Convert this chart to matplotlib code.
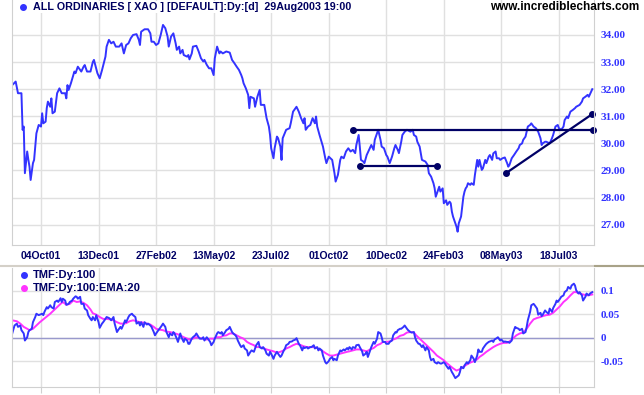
import matplotlib
matplotlib.use("Agg")
import matplotlib.pyplot as plt
from matplotlib.lines import Line2D

# ---- data (trading-day number from 30Aug01, value) ----
tick_days = [25, 75, 125, 175, 225, 275, 325, 375, 425, 475]
tick_labels = ["04Oct01", "13Dec01", "27Feb02", "13May02", "23Jul02",
               "01Oct02", "10Dec02", "24Feb03", "08May03", "18Jul03"]

price_ticks = [27, 28, 29, 30, 31, 32, 33, 34]
tmf_ticks = [-0.05, 0, 0.05, 0.1]
tmf_tick_labels = ["-0.05", "0", "0.05", "0.1"]

price_day = [0, 3, 5, 8, 9, 10, 11, 13, 14, 15, 16, 18, 19, 20, 21, 23, 25, 26, 27, 29,
             30, 31, 33, 34, 35, 37, 39, 41, 43, 46, 47, 48, 49, 51, 54, 55, 57, 60, 62, 63,
             65, 68, 70, 71, 74, 76, 78, 81, 82, 84, 86, 88, 90, 93, 95, 97, 99, 101, 103, 105,
             108, 110, 111, 112, 115, 118, 120, 121, 123, 125, 127, 129, 131, 133, 135, 136, 138, 140, 142, 143,
             145, 146, 148, 149, 152, 153, 154, 156, 157, 160, 162, 164, 166, 167, 169, 171, 173, 175, 176, 178,
             180, 181, 183, 186, 189, 191, 193, 195, 197, 199, 200, 201, 203, 205, 206, 207, 210, 211, 213, 215,
             216, 219, 221, 223, 224, 225, 227, 228, 230, 231, 233, 234, 235, 238, 241, 242, 244, 247, 249, 251,
             253, 254, 255, 257, 259, 261, 263, 264, 265, 267, 270, 272, 273, 275, 278, 280, 281, 283, 285, 286,
             288, 290, 292, 294, 296, 298, 299, 301, 302, 303, 305, 306, 308, 310, 312, 314, 315, 317, 318, 320,
             321, 323, 325, 326, 328, 330, 332, 333, 335, 336, 338, 339, 341, 343, 346, 348, 349, 351, 352, 354,
             356, 359, 361, 362, 364, 366, 367, 368, 370, 371, 372, 374, 375, 377, 378, 380, 381, 382, 383, 385,
             386, 387, 388, 390, 391, 392, 393, 394, 395, 396, 398, 399, 401, 402, 404, 405, 406, 408, 409, 411,
             412, 414, 415, 417, 418, 420, 421, 423, 424, 426, 428, 430, 431, 432, 434, 436, 438, 440, 441, 443,
             444, 446, 447, 448, 450, 451, 453, 455, 457, 459, 460, 461, 463, 464, 467, 469, 470, 472, 474, 475,
             477, 479, 480, 482, 483, 485, 487, 489, 490, 493, 495, 496, 498, 500, 501, 503, 504]
price_close = [32.15, 32.28, 31.85, 31.85, 30.50, 30.62, 28.90, 29.70, 29.40, 29.14, 28.65, 29.27, 29.39, 29.88, 30.37, 30.68, 30.62, 31.11, 30.74, 30.80,
               31.30, 31.54, 31.35, 31.66, 31.11, 31.17, 31.85, 32.03, 31.85, 31.85, 31.66, 32.15, 31.97, 32.22, 32.65, 32.59, 32.83, 32.65, 32.83, 32.89,
               32.65, 32.65, 33.00, 33.08, 32.59, 32.40, 32.70, 33.20, 33.57, 33.82, 33.69, 33.75, 33.57, 33.57, 33.69, 33.32, 33.63, 33.69, 33.88, 34.00,
               34.03, 33.82, 33.63, 34.12, 34.21, 34.21, 34.06, 33.75, 33.75, 33.63, 33.69, 34.00, 34.37, 34.25, 33.94, 33.57, 33.94, 34.06, 33.69, 33.45,
               33.57, 33.32, 33.45, 33.26, 33.20, 33.26, 33.10, 33.32, 33.57, 33.60, 33.39, 33.14, 33.02, 33.08, 32.90, 32.77, 32.77, 32.52, 33.14, 33.57,
               33.32, 33.39, 33.32, 33.39, 33.35, 33.08, 32.96, 32.83, 32.71, 32.52, 32.40, 32.22, 32.03, 31.79, 31.30, 31.72, 31.66, 31.35, 31.72, 31.97,
               31.42, 31.42, 30.93, 30.62, 30.31, 29.82, 29.45, 29.82, 30.25, 30.19, 29.88, 29.39, 30.19, 30.50, 30.56, 30.74, 31.17, 31.35, 31.17, 30.93,
               30.74, 30.93, 30.50, 30.62, 30.68, 30.93, 30.74, 30.99, 30.62, 30.31, 29.88, 29.45, 29.27, 29.51, 29.39, 28.90, 28.59, 28.84, 29.39, 29.51,
               29.45, 29.70, 29.82, 29.70, 29.76, 29.64, 29.94, 30.31, 29.88, 29.39, 29.33, 29.27, 29.57, 29.76, 29.94, 29.76, 30.13, 30.37, 30.50, 30.13,
               29.88, 29.82, 29.57, 29.51, 29.27, 29.51, 29.82, 29.94, 29.76, 29.64, 30.06, 30.31, 30.43, 30.50, 30.43, 30.50, 30.31, 30.25, 30.06, 29.88,
               29.39, 29.33, 29.20, 28.90, 28.77, 28.53, 28.35, 28.03, 28.28, 28.40, 28.22, 28.34, 27.79, 27.90, 27.73, 27.85, 27.79, 27.48, 27.30, 27.05,
               26.93, 26.74, 27.05, 27.30, 27.67, 28.03, 28.22, 28.34, 28.40, 28.53, 28.47, 28.53, 28.47, 28.83, 29.39, 29.14, 29.39, 29.02, 29.08, 29.39,
               29.27, 29.51, 29.57, 29.39, 29.63, 29.70, 29.45, 29.45, 29.39, 29.45, 29.48, 29.27, 29.14, 29.20, 29.45, 29.57, 29.70, 29.82, 29.94, 30.00,
               30.13, 30.25, 30.43, 30.62, 30.68, 30.74, 30.62, 30.56, 30.43, 30.19, 29.94, 30.00, 30.06, 30.06, 30.00, 30.19, 30.31, 30.62, 30.68, 30.56,
               30.50, 30.62, 30.86, 30.99, 30.93, 31.17, 31.23, 31.30, 31.35, 31.42, 31.54, 31.66, 31.72, 31.79, 31.72, 31.91, 32.00]

# drawn trend lines: (day, level) end points
resist_day, resist_level = [296, 505], [30.50, 30.50]
support_day, support_level = [302, 369], [29.15, 29.15]
trend_day, trend_level = [429, 504], [28.90, 31.08]

tmf_day = [0, 2, 4, 5, 7, 8, 10, 11, 13, 14, 15, 17, 18, 20, 21, 23, 24, 26, 27, 28,
           30, 31, 33, 34, 36, 37, 39, 40, 42, 43, 44, 46, 47, 49, 50, 52, 53, 55, 56, 57,
           59, 60, 62, 63, 65, 66, 68, 69, 70, 72, 73, 75, 76, 78, 79, 81, 82, 84, 85, 86,
           88, 89, 91, 92, 94, 95, 97, 98, 99, 101, 102, 104, 105, 107, 108, 110, 111, 112, 114, 115,
           117, 118, 120, 121, 123, 124, 125, 127, 128, 130, 131, 133, 134, 136, 137, 139, 140, 141, 143, 144,
           146, 147, 149, 150, 152, 153, 154, 156, 157, 159, 160, 162, 163, 165, 166, 167, 169, 170, 172, 173,
           175, 176, 178, 179, 181, 182, 183, 185, 186, 188, 189, 191, 192, 194, 195, 196, 198, 199, 201, 202,
           204, 205, 207, 208, 210, 211, 212, 214, 215, 217, 218, 220, 221, 223, 224, 225, 227, 228, 230, 231,
           233, 234, 236, 237, 238, 240, 241, 243, 244, 246, 247, 249, 250, 252, 253, 254, 256, 257, 259, 260,
           262, 263, 265, 266, 267, 269, 270, 272, 273, 275, 276, 278, 279, 280, 282, 283, 285, 286, 288, 289,
           291, 292, 293, 295, 296, 298, 299, 301, 302, 304, 305, 307, 308, 309, 311, 312, 314, 315, 317, 318,
           320, 321, 322, 324, 325, 327, 328, 330, 331, 333, 334, 335, 337, 338, 340, 341, 343, 344, 346, 347,
           349, 350, 351, 353, 354, 356, 357, 359, 360, 362, 363, 364, 366, 367, 369, 370, 372, 373, 375, 376,
           377, 379, 380, 382, 383, 385, 386, 388, 389, 390, 392, 393, 395, 396, 398, 399, 401, 402, 404, 405,
           406, 408, 409, 411, 412, 414, 415, 417, 418, 419, 421, 422, 424, 425, 427, 428, 430, 431, 432, 434,
           435, 437, 438, 440, 441, 443, 444, 446, 447, 448, 450, 451, 453, 454, 456, 457, 459, 460, 461, 463,
           464, 466, 467, 469, 470, 472, 473, 474, 476, 477, 479, 480, 482, 483, 485, 486, 488, 489, 490, 492,
           493, 495, 496, 498, 499, 501, 502, 504]
tmf_value = [0.009, 0.026, 0.030, 0.023, 0.026, 0.016, 0.009, -0.006, 0.001, 0.012, 0.016, 0.019, 0.033, 0.044, 0.051, 0.048, 0.049, 0.051, 0.048, 0.055,
             0.065, 0.062, 0.069, 0.065, 0.062, 0.076, 0.079, 0.076, 0.084, 0.076, 0.083, 0.079, 0.070, 0.072, 0.076, 0.079, 0.083, 0.088, 0.087, 0.083,
             0.087, 0.072, 0.072, 0.062, 0.058, 0.048, 0.040, 0.037, 0.044, 0.037, 0.048, 0.033, 0.021, 0.030, 0.033, 0.040, 0.044, 0.042, 0.040, 0.037,
             0.044, 0.030, 0.012, 0.016, 0.023, 0.019, 0.030, 0.037, 0.033, 0.044, 0.048, 0.051, 0.048, 0.044, 0.030, 0.033, 0.026, 0.033, 0.023, 0.033,
             0.028, 0.030, 0.026, 0.023, 0.012, 0.005, 0.009, 0.016, 0.019, 0.026, 0.030, 0.023, 0.012, 0.001, 0.009, 0.005, 0.012, 0.009, -0.002, -0.009,
             0.009, 0.001, -0.009, -0.002, -0.006, -0.013, -0.013, -0.002, 0.001, 0.005, 0.009, 0.001, -0.002, -0.002, 0.001, -0.006, 0.001, -0.002, -0.009, -0.016,
             -0.009, -0.002, 0.009, 0.012, 0.009, 0.012, 0.005, 0.012, 0.016, 0.019, 0.023, 0.012, 0.009, 0.005, 0.001, -0.006, -0.016, -0.020, -0.016, -0.023,
             -0.027, -0.038, -0.030, -0.027, -0.030, -0.023, -0.016, -0.009, -0.020, -0.023, -0.020, -0.027, -0.034, -0.038, -0.030, -0.034, -0.045, -0.038, -0.030, -0.034,
             -0.041, -0.038, -0.027, -0.023, -0.016, -0.013, -0.009, -0.008, -0.006, -0.004, -0.001, -0.013, -0.016, -0.027, -0.020, -0.022, -0.020, -0.023, -0.020, -0.020,
             -0.016, -0.023, -0.020, -0.027, -0.023, -0.027, -0.038, -0.052, -0.055, -0.050, -0.045, -0.041, -0.048, -0.045, -0.048, -0.038, -0.027, -0.029, -0.025, -0.027,
             -0.022, -0.025, -0.020, -0.025, -0.020, -0.022, -0.016, -0.015, -0.020, -0.029, -0.038, -0.034, -0.030, -0.041, -0.027, -0.020, -0.009, -0.013, -0.002, 0.012,
             0.009, 0.001, -0.009, -0.009, -0.013, -0.013, -0.009, -0.006, 0.005, 0.012, 0.011, 0.016, 0.019, 0.019, 0.023, 0.026, 0.019, 0.016, 0.012, 0.011,
             0.012, 0.001, -0.006, -0.013, -0.013, -0.020, -0.016, -0.027, -0.020, -0.027, -0.041, -0.048, -0.045, -0.052, -0.055, -0.052, -0.055, -0.055, -0.052, -0.055,
             -0.059, -0.066, -0.062, -0.073, -0.077, -0.086, -0.084, -0.080, -0.073, -0.062, -0.065, -0.059, -0.052, -0.055, -0.048, -0.038, -0.045, -0.052, -0.038, -0.025,
             -0.030, -0.030, -0.023, -0.016, -0.013, -0.009, -0.008, -0.006, -0.009, -0.004, -0.001, 0.001, -0.006, -0.004, -0.009, -0.008, -0.009, -0.009, -0.011, -0.006,
             0.009, 0.023, 0.021, 0.019, 0.016, 0.019, 0.009, 0.012, 0.023, 0.037, 0.055, 0.069, 0.072, 0.069, 0.062, 0.049, 0.053, 0.046, 0.049, 0.058,
             0.055, 0.051, 0.062, 0.055, 0.063, 0.072, 0.079, 0.076, 0.083, 0.087, 0.090, 0.097, 0.101, 0.108, 0.104, 0.111, 0.115, 0.111, 0.101, 0.094,
             0.097, 0.090, 0.079, 0.087, 0.094, 0.090, 0.094, 0.097]

ema_day = [0, 4, 7, 10, 13, 15, 18, 21, 24, 27, 30, 33, 36, 39, 42, 44, 47, 50, 53, 56,
           59, 62, 65, 68, 70, 73, 76, 79, 82, 85, 88, 91, 94, 97, 99, 102, 105, 108, 111, 114,
           117, 120, 123, 125, 128, 131, 134, 137, 140, 143, 146, 149, 152, 154, 157, 160, 163, 166, 169, 172,
           175, 178, 181, 183, 186, 189, 192, 195, 198, 201, 204, 207, 210, 212, 215, 218, 221, 224, 227, 230,
           233, 236, 238, 241, 244, 247, 250, 253, 256, 259, 262, 265, 267, 270, 273, 276, 279, 282, 285, 288,
           291, 293, 296, 299, 302, 305, 308, 311, 314, 317, 320, 322, 325, 328, 331, 334, 337, 340, 343, 346,
           349, 351, 354, 357, 360, 363, 366, 369, 372, 375, 377, 380, 383, 386, 389, 392, 395, 398, 401, 404,
           406, 409, 412, 415, 418, 421, 424, 427, 430, 432, 435, 438, 441, 444, 447, 450, 453, 456, 459, 461,
           464, 467, 470, 473, 476, 479, 482, 485, 488, 490, 493, 496, 499, 502, 504]
ema_value = [0.037, 0.035, 0.030, 0.023, 0.019, 0.016, 0.019, 0.026, 0.033, 0.039, 0.045, 0.051, 0.058, 0.065, 0.072, 0.076, 0.070, 0.072, 0.079, 0.076,
             0.077, 0.074, 0.069, 0.060, 0.052, 0.049, 0.044, 0.040, 0.040, 0.039, 0.037, 0.033, 0.030, 0.030, 0.031, 0.035, 0.037, 0.035, 0.033, 0.032,
             0.030, 0.028, 0.023, 0.019, 0.017, 0.016, 0.013, 0.012, 0.010, 0.008, 0.005, 0.001, -0.002, -0.004, -0.002, 0.001, -0.001, -0.002, -0.004, -0.002,
             -0.002, 0.001, 0.001, 0.004, 0.005, 0.009, 0.009, 0.005, 0.001, -0.002, -0.009, -0.013, -0.016, -0.020, -0.020, -0.022, -0.025, -0.027, -0.029, -0.032,
             -0.030, -0.027, -0.023, -0.020, -0.016, -0.013, -0.015, -0.018, -0.020, -0.020, -0.020, -0.022, -0.025, -0.029, -0.034, -0.038, -0.038, -0.036, -0.034, -0.032,
             -0.030, -0.029, -0.027, -0.025, -0.025, -0.027, -0.029, -0.025, -0.022, -0.016, -0.013, -0.009, -0.009, -0.008, -0.004, -0.001, 0.004, 0.006, 0.011, 0.012,
             0.011, 0.005, -0.002, -0.009, -0.016, -0.023, -0.030, -0.038, -0.043, -0.048, -0.053, -0.059, -0.065, -0.070, -0.067, -0.062, -0.057, -0.053, -0.050, -0.046,
             -0.041, -0.036, -0.030, -0.025, -0.020, -0.016, -0.013, -0.011, -0.011, -0.008, -0.002, 0.005, 0.009, 0.011, 0.019, 0.030, 0.039, 0.042, 0.044, 0.046,
             0.048, 0.049, 0.053, 0.060, 0.067, 0.076, 0.082, 0.090, 0.097, 0.097, 0.094, 0.092, 0.090, 0.091, 0.092]

# ---- layout helpers (reference is 644 x 395 px) ----
W, H = 644, 395


def fx(px):
    return px / W


def fy(py):
    return 1 - py / H


NAVY = "#000066"
BLUE = "#3333ff"
MAGENTA = "#ff33ff"
GRID = "#e0e0e0"
SPINE = "#d0d0d0"
sans = "Liberation Sans"
serif = "Liberation Serif"

fig = plt.figure(figsize=(W / 100, H / 100), dpi=100)
fig.patch.set_facecolor("white")

ax = fig.add_axes([fx(12), fy(245), fx(594) - fx(12), 245 / H])
ax2 = fig.add_axes([fx(12), fy(387), fx(594) - fx(12), (387 - 268) / H])

for a in (ax, ax2):
    a.set_xlim(-0.2, 505.5)
    a.grid(True, color=GRID, lw=1.0)
    a.set_axisbelow(True)
    for side in ("left", "right", "bottom"):
        a.spines[side].set_color(SPINE)
    a.spines["top"].set_visible(False)
    a.yaxis.tick_right()
    a.set_xticks(tick_days)

# ---- price panel ----
ax.plot(price_day, price_close, color=BLUE, lw=1.4)
for d, v in ((resist_day, resist_level), (support_day, support_level), (trend_day, trend_level)):
    ax.plot(d, v, color=NAVY, lw=1.6, marker="o", ms=4, clip_on=False)

ax.set_ylim(26.25, 35.29)
ax.set_yticks(price_ticks)
ax.set_yticklabels([f"{v:.2f}" for v in price_ticks])
ax.set_xticklabels(tick_labels)
ax.tick_params(axis="x", length=0, pad=4, labelsize=7.5, labelcolor=NAVY)
ax.tick_params(axis="y", length=0, pad=4.5, labelsize=8, labelcolor=BLUE)
for t in ax.get_xticklabels():
    t.set_fontfamily(sans)
    t.set_fontweight("bold")
for t in ax.get_yticklabels():
    t.set_fontfamily(serif)
    t.set_fontweight("bold")

# ---- TMF panel ----
ax2.axhline(0, color="#9999cc", lw=1.0)
ax2.plot(ema_day, ema_value, color=MAGENTA, lw=1.4)
ax2.plot(tmf_day, tmf_value, color=BLUE, lw=1.4)
ax2.set_ylim(-0.1049, 0.1483)
ax2.set_yticks(tmf_ticks)
ax2.set_yticklabels(tmf_tick_labels)
ax2.set_xticklabels([])
ax2.tick_params(axis="x", length=4, color=SPINE)
ax2.tick_params(axis="y", length=0, pad=4.5, labelsize=8, labelcolor=BLUE)
for t in ax2.get_yticklabels():
    t.set_fontfamily(serif)
    t.set_fontweight("bold")

# ---- header, legend, separator ----
fig.text(fx(33), fy(7), "ALL ORDINARIES [ XAO ] [DEFAULT]:Dy:[d]  29Aug2003 19:00",
         ha="left", va="center", fontsize=7.75, fontweight="bold", color="#000060", family=sans,
         bbox=dict(facecolor="white", edgecolor="none", pad=1))
fig.add_artist(Line2D([fx(23)], [fy(6.5)], marker="o", ms=4, color=BLUE, transform=fig.transFigure))
fig.text(fx(639), fy(7), "www.incrediblecharts.com", ha="right", va="center",
         fontsize=8.5, fontweight="bold", color="black", family=sans)

for py, col, name in ((275, BLUE, "TMF:Dy:100"), (288, MAGENTA, "TMF:Dy:100:EMA:20")):
    fig.add_artist(Line2D([fx(24)], [fy(py)], marker="o", ms=4, color=col, transform=fig.transFigure))
    fig.text(fx(33), fy(py), name, ha="left", va="center", fontsize=8, fontweight="bold",
             color=NAVY, family=sans)

fig.add_artist(Line2D([0, 1], [fy(265.5), fy(265.5)], color="#d4d0c8", lw=1.5, transform=fig.transFigure))
fig.add_artist(Line2D([fx(595), 1], [fy(266), fy(266)], color="#a8a288", lw=1.5, transform=fig.transFigure))

fig.savefig("out.png", dpi=100)
